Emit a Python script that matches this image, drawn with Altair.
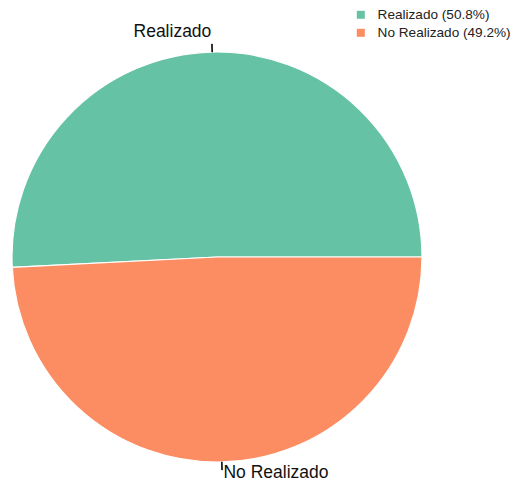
import altair as alt
import pandas as pd
import numpy as np

categories = ["Realizado", "No Realizado"]
percentages = [50.8, 49.2]
colors = ["#66c2a5", "#fc8d62"]
legend_labels = [f"{c} ({p}%)" for c, p in zip(categories, percentages)]

df = pd.DataFrame({"cat": categories, "pct": percentages, "legend": legend_labels})
# clockwise from 3 o'clock: No Realizado first, then Realizado
df["order"] = [1, 0]
total = df["pct"].sum()
ordered = df.sort_values("order")
cum = ordered["pct"].cumsum() - ordered["pct"] / 2
df.loc[ordered.index, "mid"] = np.pi / 2 + cum / total * 2 * np.pi
df["mid2"] = df["mid"] + 0.003

CX, CY, R = 209, 249, 205

pie = alt.Chart(df).mark_arc(radius=R, stroke="white", strokeWidth=1.2).encode(
    theta=alt.Theta("pct:Q", stack=True, scale=alt.Scale(range=[np.pi / 2, 5 * np.pi / 2])),
    order=alt.Order("order:Q"),
    color=alt.Color(
        "legend:N",
        scale=alt.Scale(domain=legend_labels, range=colors),
        legend=alt.Legend(
            title=None, orient="none", legendX=346, legendY=0,
            symbolType="square", symbolSize=64, symbolStrokeWidth=0,
            labelFontSize=13.6, labelFont="Liberation Sans", labelColor="#222222",
            labelOffset=10, rowPadding=3,
        ),
    ),
    x=alt.value(CX), y=alt.value(CY),
)

ticks = alt.Chart(df).mark_arc(radius=R, radius2=R + 8, fill="black", stroke="black", strokeWidth=0.8).encode(
    theta=alt.Theta("mid:Q", scale=None),
    theta2="mid2:Q",
    x=alt.value(CX), y=alt.value(CY),
)

lab_right = alt.Chart(df).transform_filter(alt.datum.cat == "Realizado").mark_text(
    radius=R * 1.1, align="right", baseline="middle", fontSize=17.5,
    font="Liberation Sans", color="#111111",
).encode(
    theta=alt.Theta("mid:Q", scale=None),
    text="cat:N",
    x=alt.value(CX), y=alt.value(CY),
)

lab_left = alt.Chart(df).transform_filter(alt.datum.cat == "No Realizado").mark_text(
    radius=R * 1.055, align="left", baseline="middle", fontSize=17.5, dx=1,
    font="Liberation Sans", color="#111111",
).encode(
    theta=alt.Theta("mid:Q", scale=None),
    text="cat:N",
    x=alt.value(CX), y=alt.value(CY),
)

chart = alt.layer(pie, ticks, lab_right, lab_left).resolve_scale(
    theta="independent"
).properties(
    width=506, height=476, autosize="none", padding=0
).configure_view(stroke=None)

chart.save("out.html", embed_options={"renderer": "svg", "actions": False})
